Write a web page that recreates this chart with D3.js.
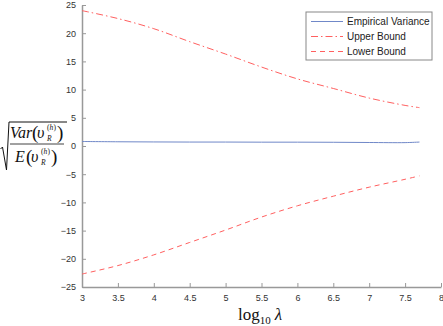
<!DOCTYPE html>
<html>
<head>
<meta charset="utf-8">
<script src="https://cdn.jsdelivr.net/npm/d3@7"></script>
<style>
  body { margin: 0; background: #fff; }
  .axis text { font-family: "Liberation Sans", Arial, sans-serif; font-size: 9px; fill: #333; }
  .axis path, .axis line { stroke: #999; }
</style>
</head>
<body>
<div id="chart"></div>
<script>
// data
let lambdaLog = [3, 3.5, 4, 4.5, 5, 5.5, 6, 6.5, 7, 7.5, 7.7];
let empirical = [0.8, 0.75, 0.72, 0.7, 0.7, 0.68, 0.68, 0.66, 0.62, 0.6, 0.7];
let upperBound = [24.0, 22.6, 20.8, 18.5, 16.3, 14.0, 11.9, 10.2, 8.5, 7.2, 6.8];
let lowerBound = [-22.7, -21.2, -19.3, -17.1, -14.9, -12.6, -10.6, -8.9, -7.3, -5.9, -5.3];
let xTicks = [3, 3.5, 4, 4.5, 5, 5.5, 6, 6.5, 7, 7.5, 8];
let yTicks = [-25, -20, -15, -10, -5, 0, 5, 10, 15, 20, 25];
let legendLabels = ["Empirical Variance", "Upper Bound", "Lower Bound"];

let W = 443, H = 326;
let margin = {top: 5, right: 2, bottom: 39, left: 82};
let width = W - margin.left - margin.right;
let height = H - margin.top - margin.bottom;

let svg = d3.select("#chart").append("svg")
    .attr("width", W)
    .attr("height", H);

let g = svg.append("g")
    .attr("transform", `translate(${margin.left},${margin.top})`);

let x = d3.scaleLinear().domain([3, 8]).range([0, width]);
let y = d3.scaleLinear().domain([-25, 25]).range([height, 0]);

// axes (MATLAB style, ticks pointing inward)
let xAxis = d3.axisBottom(x).tickValues(xTicks).tickSizeInner(-4).tickSizeOuter(0).tickPadding(8)
    .tickFormat(d => String(d));
let yAxis = d3.axisLeft(y).tickValues(yTicks).tickSizeInner(-4).tickSizeOuter(0).tickPadding(6)
    .tickFormat(d => String(d).replace("-", "\u2212"));

g.append("g")
    .attr("class", "x-axis axis")
    .attr("transform", `translate(0,${height})`)
    .call(xAxis);

g.append("g")
    .attr("class", "y-axis axis")
    .call(yAxis);

g.selectAll(".axis .domain").attr("stroke-width", 1.5);

// series
let series = [
    {vals: empirical, color: "#7088c8", dash: null},
    {vals: upperBound, color: "#ff6060", dash: "7,3,1.5,3"},
    {vals: lowerBound, color: "#ff6060", dash: "5,4"}
];

let line = d3.line()
    .curve(d3.curveCatmullRom)
    .x((d, i) => x(lambdaLog[i]))
    .y(d => y(d));

series.forEach(s => {
    g.append("path")
        .datum(s.vals)
        .attr("fill", "none")
        .attr("stroke", s.color)
        .attr("stroke-width", 1)
        .attr("stroke-dasharray", s.dash)
        .attr("d", line);
});

// legend
let legend = svg.append("g").attr("transform", "translate(306,12)");
legend.append("rect")
    .attr("width", 126).attr("height", 48)
    .attr("fill", "#fff").attr("stroke", "#888").attr("stroke-width", 1);

legendLabels.forEach((lab, i) => {
    let ly = 9.5 + i * 15;
    legend.append("line")
        .attr("x1", 5).attr("x2", 37)
        .attr("y1", ly).attr("y2", ly)
        .attr("stroke", series[i].color)
        .attr("stroke-width", 1)
        .attr("stroke-dasharray", series[i].dash);
    legend.append("text")
        .attr("x", 41).attr("y", ly + 3.5)
        .style("font-family", "Liberation Sans, Arial, sans-serif")
        .style("font-size", "10px")
        .attr("fill", "#222")
        .text(lab);
});

// x label: log10 lambda
let xl = svg.append("text")
    .attr("x", 238).attr("y", 320)
    .style("font-family", "Liberation Serif, Times New Roman, serif")
    .style("font-size", "17px")
    .attr("fill", "#111");
xl.append("tspan").text("log");
xl.append("tspan").attr("dy", 4).style("font-size", "11px").text("10");
xl.append("tspan").attr("dy", -4).attr("dx", 4).style("font-style", "italic").text("\u03bb");

// y label: sqrt(Var(v)/E(v)), each piece placed by hand
let yl = svg.append("g")
    .style("font-family", "Liberation Serif, Times New Roman, serif")
    .attr("fill", "#111");

yl.append("path")
    .attr("d", "M0.5,149 L2.5,147 L6.5,170 L9,122 L67,122")
    .attr("fill", "none").attr("stroke", "#111").attr("stroke-width", 1);

yl.append("line")
    .attr("x1", 10).attr("x2", 64).attr("y1", 144).attr("y2", 144)
    .attr("stroke", "#111").attr("stroke-width", 0.8);

function piece(txt, px, py, size, italic) {
    yl.append("text")
        .attr("x", px).attr("y", py)
        .style("font-size", size + "px")
        .style("font-style", italic ? "italic" : "normal")
        .text(txt);
}
function frac(word, x0, yb) {
    piece(word, x0, yb, 16, true);
    let w = word === "Var" ? 22 : 11;
    let px = x0 + w;
    piece("(", px, yb + 1, 19, false);
    piece("\u03c5", px + 5, yb, 16, true);
    piece("(", px + 15, yb - 8, 7.5, false);
    piece("h", px + 17.5, yb - 8, 7.5, true);
    piece(")", px + 21.5, yb - 8, 7.5, false);
    piece("R", px + 15, yb + 2.5, 7.5, true);
    piece(")", px + 25, yb + 1, 19, false);
}
frac("Var", 10, 138);
frac("E", 15, 162);
</script>
</body>
</html>
